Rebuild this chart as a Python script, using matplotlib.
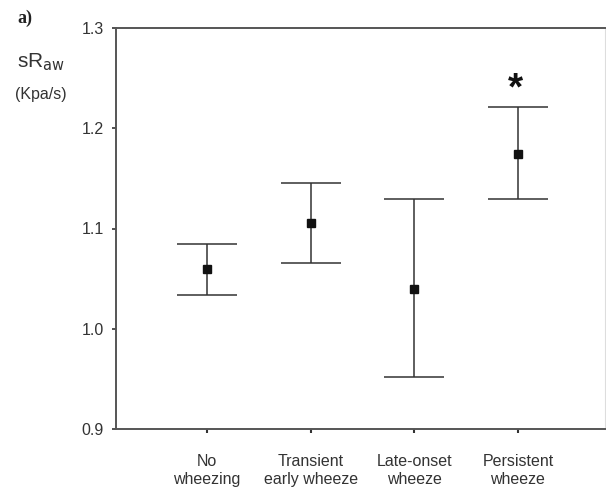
import matplotlib
matplotlib.use("Agg")
import matplotlib.pyplot as plt
import numpy as np

categories = ["No\nwheezing", "Transient\nearly wheeze", "Late-onset\nwheeze", "Persistent\nwheeze"]
means = [1.060, 1.105, 1.040, 1.174]
upper = [1.085, 1.145, 1.129, 1.221]
lower = [1.034, 1.066, 0.952, 1.129]
yticks = [0.9, 1.0, 1.1, 1.2, 1.3]

plt.rcParams['font.family'] = ['Liberation Sans', 'DejaVu Sans']

fig = plt.figure(figsize=(6.06, 4.91), dpi=100)
ax = fig.add_axes([116/606, 1 - 429/491, (605-116)/606, (429-28)/491])

x = np.arange(1, len(categories) + 1)
m = np.array(means)
yerr = np.vstack([m - np.array(lower), np.array(upper) - m])
ax.errorbar(x, m, yerr=yerr, fmt='s', color='#111111', ecolor='#333333',
            elinewidth=1.1, capsize=21.5, capthick=1.1, markersize=6)

ax.set_xlim(0.1225, 4.84)
ax.set_ylim(0.9, 1.3)
ax.set_yticks(yticks)
ax.set_yticklabels([f"{v:.1f}" for v in yticks])
ax.set_xticks(x)
ax.set_xticklabels(categories, fontsize=11.5, color='#333333', linespacing=1.22)
ax.tick_params(axis='y', labelsize=11.5, colors='#333333', length=3, width=1.2, pad=6)
ax.tick_params(axis='x', length=3, width=1.5, pad=15, colors='#333333')

for s in ['left', 'bottom', 'top']:
    ax.spines[s].set_color('#555555')
    ax.spines[s].set_linewidth(1.4)
ax.spines['right'].set_color('#dddddd')
ax.spines['right'].set_linewidth(0.8)

ax.text(3.98, 1.239, "*", fontsize=28, fontweight='bold', ha='center', va='center', color='#111111')

fig.text(17/606, 1 - 18/491, "a)", fontsize=13, fontweight='bold', family=['Liberation Serif'],
         ha='left', va='center', color='#222222')
fig.text(17/606, 1 - 62/491, r"sR$_{\mathrm{aw}}$", fontsize=15, ha='left', va='center', color='#333333')
fig.text(15/606, 1 - 95/491, "(Kpa/s)", fontsize=11.5, ha='left', va='center', color='#333333')

fig.savefig("out.png", dpi=100)
